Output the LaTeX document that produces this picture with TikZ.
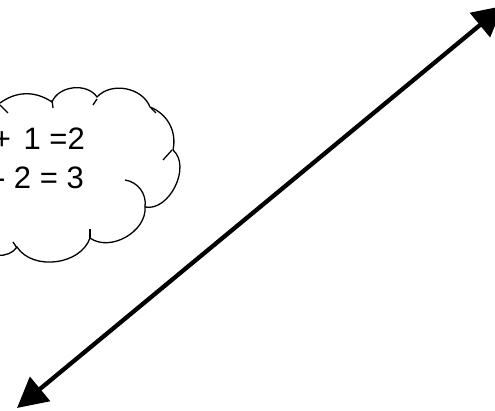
\documentclass[tikz,border=0pt]{standalone}
\usepackage{fontspec}
\setmainfont{Liberation Sans}
\usetikzlibrary{arrows.meta}
\tikzset{
  cloudline/.style={line width=1.3pt,black},
  foldline/.style={cloudline},
  bigarrow/.style={line width=4.3pt,{Triangle[length=30pt,width=31pt]}-{Triangle[length=30pt,width=31pt]}},
  sumtext/.style={font=\fontsize{31}{33}\selectfont,inner sep=0pt,anchor=base east}
}
\begin{document}
\begin{tikzpicture}[x=1pt,y=-1pt]
  \useasboundingbox (0,0) rectangle (495,411);
  % cloud outline
  \draw[cloudline] (0,103) to[bend left=35] (52,102) to[bend left=62] (97,97)
    to[bend left=58] (150,107) to[bend left=40] (173,150) to[bend left=75] (145,207)
    to[bend left=65] (90,238) to[bend left=64] (17,247) to[bend left=60] (-20,245);
  % folds between the bumps
  \draw[foldline] (0,105) -- (8,113);
  \draw[foldline] (52,100) -- (53,108);
  \draw[foldline] (97,99) -- (93,105);
  \draw[foldline] (151,108) -- (156,113);
  \draw[foldline] (172,150) -- (163,160);
  \draw[foldline] (125,180) to[bend left=45] (145,207);
  \draw[foldline] (90,229) -- (90,238);
  \draw[foldline] (13,242) -- (17,248);
  % equations
  \node[sumtext] (sumone) at (85,150) {+\hspace{4pt} 1 =2};
  \node[sumtext] (sumtwo) at (84,189) {- 2 = 3};
  % double arrow
  \coordinate (lowend) at (17,408);
  \coordinate (highend) at (503,6);
  \draw[bigarrow] (lowend) -- (highend);
\end{tikzpicture}
\end{document}
